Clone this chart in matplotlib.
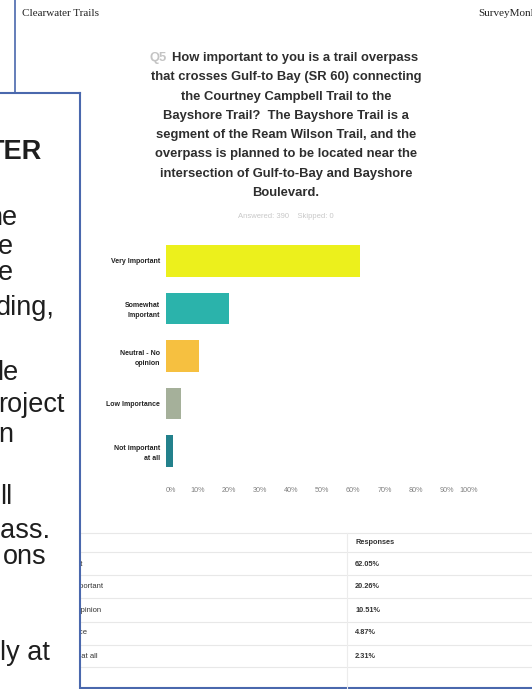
import matplotlib
matplotlib.use('Agg')
import matplotlib.pyplot as plt
from matplotlib.transforms import Bbox, TransformedBbox

# survey answers and the share of responses, in %
answers = ['Very Important', 'Somewhat\nImportant', 'Neutral - No\nopinion',
           'Low Importance', 'Not important\nat all']
table_answers = ['Very important', 'Somewhat important', 'Neutral - No opinion',
                 'Low importance', 'Not important at all']
responses = [62.05, 20.26, 10.51, 4.87, 2.31]
bar_colors = ['#ecf01c', '#2bb3ab', '#f6c040', '#a5b09a', '#23818c']
xticks = [0, 10, 20, 30, 40, 50, 60, 70, 80, 90, 100]

title_lines = ['How important to you is a trail overpass',
               'that crosses Gulf-to Bay (SR 60) connecting',
               'the Courtney Campbell Trail to the',
               'Bayshore Trail?  The Bayshore Trail is a',
               'segment of the Ream Wilson Trail, and the',
               'overpass is planned to be located near the',
               'intersection of Gulf-to-Bay and Bayshore',
               'Boulevard.']

# pieces of the slide lying over the page (only their right ends are visible)
slide_bits = ['TER', 'ne', 'e', 'e', 'ding,', 'le', 'roject', 'n', 'll',
              'pass.', 'ons', 'ly at']
slide_bits_y = [152, 218, 247, 273, 308, 373, 405, 435, 497, 531, 557, 653]
slide_bits_x = [42, 17, 13, 13, 55, 18, 65, 13, 12, 50, 47, 50]

W, H = 532, 689
sans = 'Liberation Sans'
fig = plt.figure(figsize=(W / 100, H / 100), dpi=100)

# page in pixel coordinates
bg = fig.add_axes([0, 0, 1, 1])
bg.set_xlim(0, W)
bg.set_ylim(H, 0)
bg.axis('off')

blue = '#4a68ad'
bg.plot([15, 15], [0, H], color=blue, lw=1.2)
bg.plot([15, W], [688, 688], color=blue, lw=1.5)

bg.text(22, 13, 'Clearwater Trails', family='Liberation Serif', fontsize=8,
        va='center', ha='left', color='#222222')
bg.text(478, 13, 'SurveyMonkey', family='Liberation Serif', fontsize=8,
        va='center', ha='left', color='#222222')

tsize = 9.4
bg.text(150, 58, 'Q5', family=sans, fontsize=tsize, fontweight='bold',
        color='#c4c4c4', va='center', ha='left')
for i, line in enumerate(title_lines):
    y = 58 + i * 19.3
    if i == 0:
        bg.text(172, y, line, family=sans, fontsize=tsize, fontweight='bold',
                color='#2e2e2e', va='center', ha='left')
    else:
        bg.text(286, y, line, family=sans, fontsize=tsize, fontweight='bold',
                color='#2e2e2e', va='center', ha='center')

bg.text(286, 216, 'Answered: 390    Skipped: 0', family=sans, fontsize=5.5,
        color='#c8c8c8', va='center', ha='center')

# response table under the chart
for y in [533, 552, 575, 598, 622, 645, 667]:
    bg.plot([80, W], [y, y], color='#e8e8e8', lw=0.8)
bg.plot([347, 347], [533, 688], color='#ececec', lw=0.8)
bg.text(355, 543, 'Responses', family=sans, fontsize=5.3, fontweight='bold',
        color='#333333', va='center', ha='left')
table_clip = TransformedBbox(Bbox([[80, 520], [W, H]]), bg.transData)
for i, (lab, val) in enumerate(zip(table_answers, responses)):
    y = 564 + i * 23
    t = bg.text(33, y, lab, family=sans, fontsize=5.5, color='#333333',
                va='center', ha='left')
    t.set_clip_box(table_clip)
    t.set_clip_on(True)
    bg.text(355, y, f'{val:.2f}%', family=sans, fontsize=5.3,
            fontweight='bold', color='#333333', va='center', ha='left')

# bar chart
ax = fig.add_axes([166 / W, 1 - 475 / H, 312 / W, 238 / H])
ypos = list(range(len(answers)))
ax.barh(ypos, responses, height=0.665, color=bar_colors)
ax.set_xlim(0, 100)
ax.set_ylim(len(answers) - 0.5, -0.5)
ax.set_xticks(xticks)
ax.set_xticklabels([f'{t}%' for t in xticks], family=sans, fontsize=5.2,
                   color='#808080')
tl = ax.get_xticklabels()
tl[0].set_ha('left')
tl[-1].set_ha('right')
ax.set_yticks(ypos)
ax.set_yticklabels(answers, family=sans, fontsize=5, fontweight='bold',
                   color='#222222', linespacing=1.6)
ax.tick_params(axis='x', length=0, pad=9)
ax.tick_params(axis='y', length=0, pad=4.3)
for s in ax.spines.values():
    s.set_visible(False)
ax.patch.set_alpha(0)

# slide overlapping the lower left of the page
sl = fig.add_axes([0, 0, 80 / W, (H - 93) / H])
sl.set_zorder(5)
sl.set_xlim(0, 80)
sl.set_ylim(H, 93)
sl.set_xticks([])
sl.set_yticks([])
sl.set_facecolor('white')
for side in ['left', 'bottom']:
    sl.spines[side].set_visible(False)
for side in ['top', 'right']:
    sl.spines[side].set_color(blue)
    sl.spines[side].set_linewidth(1.5)
for txt, x, y in zip(slide_bits, slide_bits_x, slide_bits_y):
    sl.text(x, y, txt, family=sans, fontsize=19.5,
            fontweight='bold' if txt == 'TER' else 'normal',
            color='#1e1e1e', va='center', ha='right', clip_on=True)

fig.savefig('out.png', dpi=100, facecolor='white')
